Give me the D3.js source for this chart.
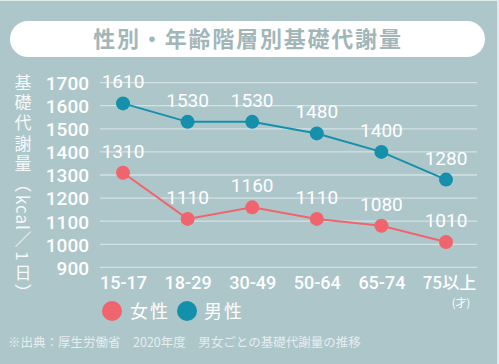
<!DOCTYPE html>
<html><head><meta charset="utf-8">
<script src="https://cdn.jsdelivr.net/npm/d3@7"></script>
<style>html,body{margin:0;padding:0;background:#dfe9ea;}svg{display:block;}</style>
</head><body>
<svg id="c" width="499" height="364"></svg>
<script>
const categories = ["15-17","18-29","30-49","50-64","65-74","75以上"];
const female = [1310,1110,1160,1110,1080,1010];
const male = [1610,1530,1530,1480,1400,1280];
const yTicks = [900,1000,1100,1200,1300,1400,1500,1600,1700];
const seriesNames = ["女性","男性"];
const colors = ["#f0656d","#1590ab"];
const title = "性別・年齢階層別基礎代謝量";
const yLabelParts = ["基礎代謝量（","kcal","／1日）"];
const unit = "(才)";
const source = "※出典：厚生労働省　2020年度　男女ごとの基礎代謝量の推移";

const svg = d3.select("#c");
const W = 499, H = 364;
const font = "'Noto Sans CJK JP','Noto Sans',sans-serif";
const numFont = "Roboto,'Noto Sans',sans-serif";

svg.append("rect").attr("x",0).attr("y",1).attr("width",497).attr("height",H-1).attr("fill","#adc6ca");

// title pill
svg.append("rect").attr("x",10).attr("y",21).attr("width",475).attr("height",36).attr("rx",18).attr("fill","#ffffff");
svg.append("text").attr("x",248).attr("y",47).attr("text-anchor","middle")
  .attr("font-family",font).attr("font-weight",700).attr("font-size",22).attr("letter-spacing",1.8)
  .attr("fill","#a2b6ba").text(title);

const x = d3.scalePoint().domain(categories).range([123,446]);
const y = d3.scaleLinear().domain([900,1700]).range([267.4,82.6]);

// gridlines
svg.append("g").selectAll("line").data(yTicks).join("line")
  .attr("x1",100).attr("x2",477).attr("y1",d=>y(d)).attr("y2",d=>y(d))
  .attr("stroke","#d3e2e4").attr("stroke-width",1.3);

// y axis via d3.axisLeft
const yAxis = svg.append("g").attr("transform","translate(89,0)")
  .call(d3.axisLeft(y).tickValues(yTicks).tickFormat(d3.format("d")).tickSize(0).tickPadding(0));
yAxis.select(".domain").remove();
yAxis.selectAll("text").attr("font-family",numFont).attr("font-weight",500).attr("font-size",19)
  .attr("fill","#ffffff").attr("dy","0.36em");

// x axis
const xAxis = svg.append("g").attr("transform","translate(0,275)")
  .call(d3.axisBottom(x).tickSize(0).tickPadding(0));
xAxis.select(".domain").remove();
xAxis.selectAll("text").attr("font-family",numFont).attr("font-weight",500).attr("font-size",18)
  .attr("fill","#ffffff").attr("dy","0.8em");
xAxis.selectAll("text").filter(d=>d==="75以上").attr("font-family",font).attr("font-size",17).attr("dx","3");

svg.append("text").attr("x",461).attr("y",307).attr("text-anchor","middle")
  .attr("font-family",font).attr("font-size",11).attr("fill","#ffffff").text(unit);

// y label vertical
const yl = svg.append("text").attr("x",23).attr("y",74)
  .attr("font-family",font).attr("font-size",17)
  .attr("fill","#f6f9f9").style("writing-mode","vertical-rl");
yLabelParts.forEach((p,i)=>{
  yl.append("tspan").attr("letter-spacing", i===1 ? 1 : 3.2).text(p);
});

// series
const series = [female, male];
series.forEach((vals,i)=>{
  const line = d3.line().x((d,j)=>x(categories[j])).y(d=>y(d));
  svg.append("path").datum(vals).attr("d",line).attr("fill","none")
    .attr("stroke",colors[i]).attr("stroke-width",2);
  svg.append("g").selectAll("circle").data(vals).join("circle")
    .attr("cx",(d,j)=>x(categories[j])).attr("cy",d=>y(d)).attr("r",7).attr("fill",colors[i]);
  svg.append("g").selectAll("text").data(vals).join("text")
    .attr("x",(d,j)=>x(categories[j])).attr("y",d=>y(d)-15)
    .attr("text-anchor","middle").attr("font-family",numFont).attr("font-weight",400).attr("font-size",19)
    .attr("fill","#ffffff").text(d=>d);
});

// legend
const lg = [{cx:112,tx:130},{cx:187,tx:204}];
seriesNames.forEach((n,i)=>{
  svg.append("circle").attr("cx",lg[i].cx).attr("cy",311).attr("r",10).attr("fill",colors[i]);
  svg.append("text").attr("x",lg[i].tx).attr("y",318).attr("font-family",font).attr("font-size",18)
    .attr("letter-spacing",2).attr("fill","#ffffff").text(n);
});

svg.append("text").attr("x",8).attr("y",347).attr("font-family",font).attr("font-size",12.5)
  .attr("fill","#e4eef0").text(source);
</script>
</body></html>
